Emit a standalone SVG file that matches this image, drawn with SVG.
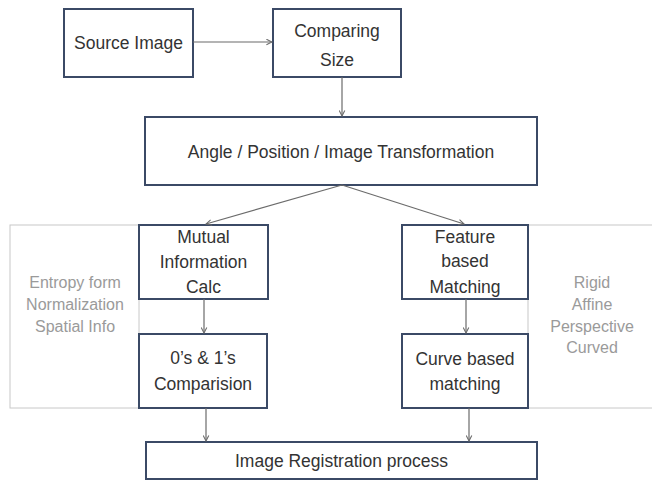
<svg xmlns="http://www.w3.org/2000/svg" width="652" height="483" viewBox="0 0 652 483">
<defs>
<style>
.box{fill:#ffffff;stroke:#3b4a66;stroke-width:2}
.panel{fill:#ffffff;stroke:#c8c8c8;stroke-width:1}
.t{font-family:"Liberation Sans",Arial,sans-serif;font-size:17.5px;fill:#333;text-anchor:middle}
.g{font-family:"Liberation Sans",Arial,sans-serif;font-size:16px;fill:#9a9a9a;text-anchor:middle}
.c{stroke:#6b6b6b;stroke-width:1.2;fill:none;marker-end:url(#ah)}
</style>
<marker id="ah" viewBox="0 0 10 10" refX="9" refY="5" markerWidth="7" markerHeight="7" orient="auto" markerUnits="userSpaceOnUse">
<path d="M1,1 L9,5 L1,9" fill="none" stroke="#6b6b6b" stroke-width="1.5"/>
</marker>
</defs>
<rect width="652" height="483" fill="#ffffff"/>
<g id="panel-left">
<rect class="panel" x="10" y="225" width="129" height="183"/>
<text class="g" x="75" y="288">Entropy form</text>
<text class="g" x="75" y="310">Normalization</text>
<text class="g" x="75" y="332">Spatial Info</text>
</g>
<g id="panel-right">
<rect class="panel" x="528" y="225" width="130" height="183"/>
<text class="g" x="592" y="288">Rigid</text>
<text class="g" x="592" y="310">Affine</text>
<text class="g" x="592" y="332">Perspective</text>
<text class="g" x="592" y="353">Curved</text>
</g>
<g id="source-image">
<rect class="box" x="64" y="9" width="129" height="68"/>
<text class="t" x="128.5" y="49">Source Image</text>
</g>
<g id="comparing-size">
<rect class="box" x="273" y="9" width="128" height="68"/>
<text class="t" x="337" y="37">Comparing</text>
<text class="t" x="337" y="66">Size</text>
</g>
<g id="transformation">
<rect class="box" x="145" y="117" width="392" height="68"/>
<text class="t" x="341" y="158">Angle / Position / Image Transformation</text>
</g>
<g id="mutual-info">
<rect class="box" x="139" y="225" width="129" height="74"/>
<text class="t" x="203.5" y="243">Mutual</text>
<text class="t" x="203.5" y="268">Information</text>
<text class="t" x="203.5" y="293">Calc</text>
</g>
<g id="zeros-ones">
<rect class="box" x="139" y="334" width="128" height="74"/>
<text class="t" x="203" y="364">0’s &amp; 1’s</text>
<text class="t" x="203" y="390">Comparision</text>
</g>
<g id="feature-matching">
<rect class="box" x="402" y="225" width="126" height="74"/>
<text class="t" x="465" y="243">Feature</text>
<text class="t" x="465" y="267">based</text>
<text class="t" x="465" y="293">Matching</text>
</g>
<g id="curve-matching">
<rect class="box" x="402" y="334" width="126" height="74"/>
<text class="t" x="465" y="365">Curve based</text>
<text class="t" x="465" y="390">matching</text>
</g>
<g id="registration">
<rect class="box" x="146" y="442" width="391" height="37"/>
<text class="t" x="341.5" y="467">Image Registration process</text>
</g>
<g id="connectors">
<line class="c" x1="193" y1="42" x2="272" y2="42"/>
<line class="c" x1="342" y1="77" x2="342" y2="116"/>
<line class="c" x1="342" y1="185" x2="206" y2="224"/>
<line class="c" x1="342" y1="185" x2="464" y2="224"/>
<line class="c" x1="204" y1="299" x2="204" y2="333"/>
<line class="c" x1="466" y1="299" x2="466" y2="333"/>
<line class="c" x1="206" y1="408" x2="206" y2="441"/>
<line class="c" x1="469" y1="408" x2="469" y2="441"/>
</g>
</svg>
